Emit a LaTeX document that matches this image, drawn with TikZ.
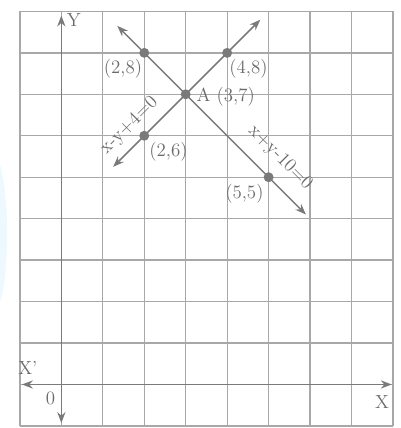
\documentclass[tikz,border=0pt]{standalone}
\usepackage{tikz}
\usetikzlibrary{arrows.meta}

\definecolor{gridgray}{HTML}{A8A8A8}
\definecolor{inkgray}{HTML}{7A7A7A}
\definecolor{textgray}{HTML}{6A6A6A}

\begin{document}
\begin{tikzpicture}[>=Stealth, every node/.style={text=textgray, font=\fontsize{13}{15}\selectfont}]
                \useasboundingbox (-1.48,-1.05) rectangle (8.17,9.275);
                \fill[cyan!7] (-1.48,5.3) .. controls (-1.25,4.5) and (-1.25,2.7) .. (-1.48,2.0) -- cycle;

                \draw[gridgray, line width=0.9pt] (-1,-1) grid (8,9);

                \coordinate (O) at (0,0);
                \coordinate (Xl) at (-0.95,0);
                \coordinate (Xr) at (7.97,0);
                \coordinate (Yb) at (0,-0.93);
                \coordinate (Yt) at (0,8.9);

                \draw[->, inkgray, line width=1pt] (O) -- (Xr) node[below left, xshift=2pt, yshift=-4pt] {X};
                \draw[->, inkgray, line width=1pt] (O) -- (Xl) node[above, xshift=4pt, yshift=3pt] {X'};
                \draw[->, inkgray, line width=1pt] (O) -- (Yt) node[right, yshift=-3pt] {Y};
                \draw[->, inkgray, line width=1pt] (O) -- (Yb);
                \node at (-0.26,-0.33) {0};

                \coordinate (A) at (3,7);
                \coordinate (P) at (2,8);
                \coordinate (Q) at (4,8);
                \coordinate (R) at (2,6);
                \coordinate (S) at (5,5);

                % x - y + 4 = 0
                \coordinate (L1a) at (1.25,5.25);
                \coordinate (L1b) at (4.8,8.8);
                \draw[<->, inkgray, line width=1pt] (L1a) -- (L1b);
                \node[rotate=45] at (1.64,6.24) {x-y+4=0};

                % x + y - 10 = 0
                \coordinate (L2a) at (1.35,8.65);
                \coordinate (L2b) at (5.9,4.1);
                \draw[<->, inkgray, line width=1pt] (L2a) -- (L2b);
                \node[rotate=-45] at (5.28,5.47) {x+y-10=0};

                \fill[inkgray] (A) circle (0.12) node[right, xshift=4pt, yshift=-2pt] {A (3,7)};
                \fill[inkgray] (P) circle (0.12) node[below left, xshift=2pt, yshift=-1pt] {(2,8)};
                \fill[inkgray] (Q) circle (0.12) node[below right, xshift=-2pt, yshift=-1pt] {(4,8)};
                \fill[inkgray] (R) circle (0.12) node[below right, xshift=0pt, yshift=-1pt] {(2,6)};
                \fill[inkgray] (S) circle (0.12) node[below left, xshift=0pt, yshift=-1pt] {(5,5)};
            \end{tikzpicture}
\end{document}
